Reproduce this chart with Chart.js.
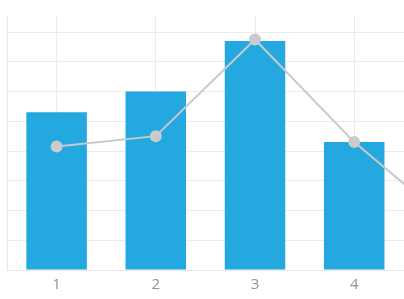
<!DOCTYPE html>
<html>
<head>
<meta charset="utf-8">
<script src="https://cdn.jsdelivr.net/npm/chart.js@4/dist/chart.umd.min.js"></script>
<style>
html,body{margin:0;padding:0;background:#fff;overflow:hidden;}
#wrap{width:404px;height:299px;position:relative;overflow:hidden;}
#inner{width:510px;height:299px;position:absolute;left:0;top:0;}
</style>
</head>
<body>
<div id="wrap"><div id="inner"><canvas id="c"></canvas></div></div>
<script>
const categories = ['1', '2', '3', '4', '5'];
const barValues = [53, 60, 77, 43];
const lineValues = [41.5, 45, 77.5, 43, 15];
const yMax = 85.4;
const yStep = 10;

new Chart(document.getElementById('c'), {
  data: {
    labels: categories,
    datasets: [
      {
        type: 'line',
        data: lineValues,
        order: 0,
        borderColor: '#c9c9c9',
        backgroundColor: '#c9c9c9',
        borderWidth: 2,
        pointRadius: 5,
        pointBackgroundColor: '#cbcbcb',
        pointBorderColor: '#cbcbcb',
        tension: 0,
        fill: false
      },
      {
        type: 'bar',
        data: barValues,
        order: 1,
        backgroundColor: '#23a8df',
        barPercentage: 0.61,
        categoryPercentage: 1
      }
    ]
  },
  options: {
    responsive: true,
    maintainAspectRatio: false,
    animation: false,
    layout: { padding: { left: 2, right: 0, top: 16, bottom: 0 } },
    plugins: { legend: { display: false }, tooltip: { enabled: false } },
    scales: {
      x: {
        type: 'category',
        offset: true,
        grid: { offset: false, color: '#ebebeb', drawTicks: false, lineWidth: 1 },
        border: { display: true, color: '#e6e6e6' },
        ticks: { color: '#929292', padding: 7, font: { family: 'Open Sans', size: 15, lineHeight: 1 } }
      },
      y: {
        min: 0,
        max: yMax,
        ticks: { display: false, stepSize: yStep },
        grid: {
          drawTicks: false,
          color: ctx => (ctx.tick && Number.isInteger(ctx.tick.value / yStep) ? '#ebebeb' : 'rgba(0,0,0,0)')
        },
        border: { display: true, color: '#e6e6e6' }
      }
    }
  }
});
</script>
</body>
</html>
